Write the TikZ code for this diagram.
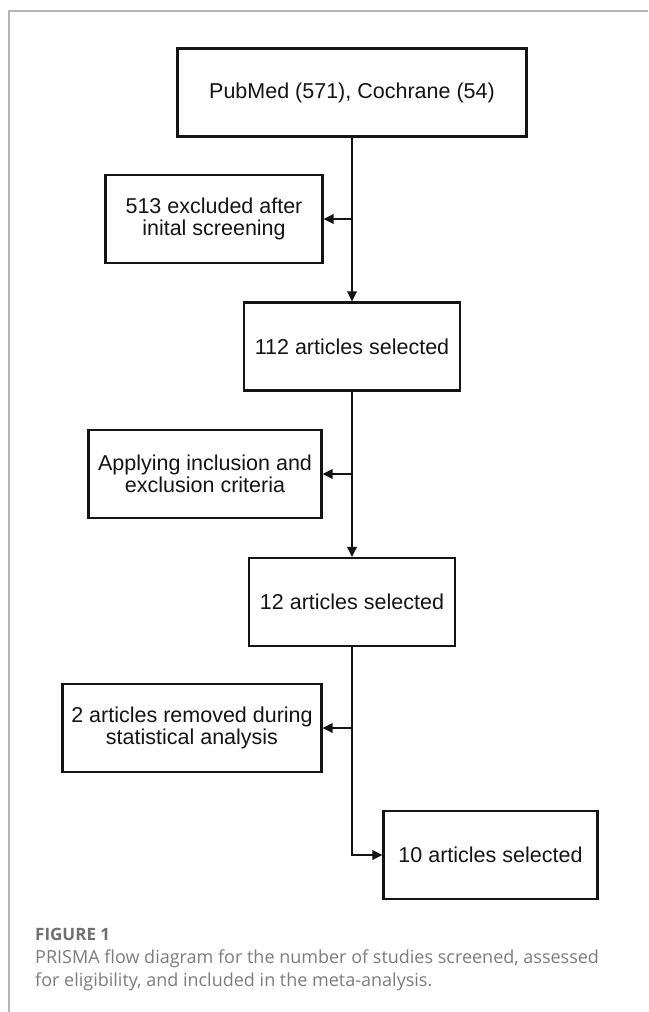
\documentclass[tikz,border=0pt]{standalone}
\usepackage{fontspec}
\setmainfont{Liberation Sans}
\newfontfamily\figcapfont{Open Sans}
\usetikzlibrary{arrows.meta,positioning}
\definecolor{ink}{HTML}{141414}
\definecolor{framegray}{HTML}{B4B4B4}
\definecolor{capgray}{HTML}{7C7C7C}
\definecolor{capdark}{HTML}{707070}
\tikzset{
  flowbox/.style={draw=ink,line width=2.2pt,fill=white,align=center,inner sep=0pt,minimum height=88pt,font=\fontsize{21.5}{22.5}\selectfont,text=ink},
  arrow/.style={-{Triangle[length=10pt,width=9.5pt]},line width=2.1pt,draw=ink},
  captext/.style={anchor=base west,inner sep=0pt,font=\figcapfont\fontsize{18}{23}\selectfont,text=capgray}
}

\begin{document}
\begin{tikzpicture}[x=1pt,y=-1pt]
  \useasboundingbox (0,0) rectangle (648,1012);
  \draw[framegray,line width=1.3pt] (9,1012) -- (9,11) -- (648,11);

  % main column
  \node[flowbox,minimum width=349pt] (search) at (352,92.5) {PubMed (571), Cochrane (54)};
  \node[flowbox,minimum width=216pt] (sel112) at (352,346.5) {112 articles selected};
  \node[flowbox,minimum width=206pt] (sel12) at (352,602) {12 articles selected};
  \node[flowbox,minimum width=214pt] (sel10) at (490.5,855) {10 articles selected};

  % side boxes
  \node[flowbox,minimum width=217pt] (excl513) at (214,219) {513 excluded after\\inital screening};
  \node[flowbox,minimum width=233pt] (criteria) at (205,474) {Applying inclusion and\\exclusion criteria};
  \node[flowbox,minimum width=259pt] (removed) at (192,728) {2 articles removed during\\statistical analysis};

  \draw[arrow] (search) -- (sel112);
  \draw[arrow] (sel112) -- (sel12);
  \draw[arrow] (sel12) |- (sel10);

  \coordinate (j1) at (search.south |- excl513.east);
  \coordinate (j2) at (sel112.south |- criteria.east);
  \coordinate (j3) at (sel12.south |- removed.east);
  \draw[arrow] (j1) -- (excl513);
  \draw[arrow] (j2) -- (criteria);
  \draw[arrow] (j3) -- (removed);

  % caption
  \node[captext,font=\figcapfont\bfseries\fontsize{17}{20}\selectfont,text=capdark] (figlabel) at (35,940) {FIGURE 1};
  \node[captext] (capA) at (35,963) {PRISMA flow diagram for the number of studies screened, assessed};
  \node[captext] (capB) at (35,986) {for eligibility, and included in the meta-analysis.};
\end{tikzpicture}
\end{document}
